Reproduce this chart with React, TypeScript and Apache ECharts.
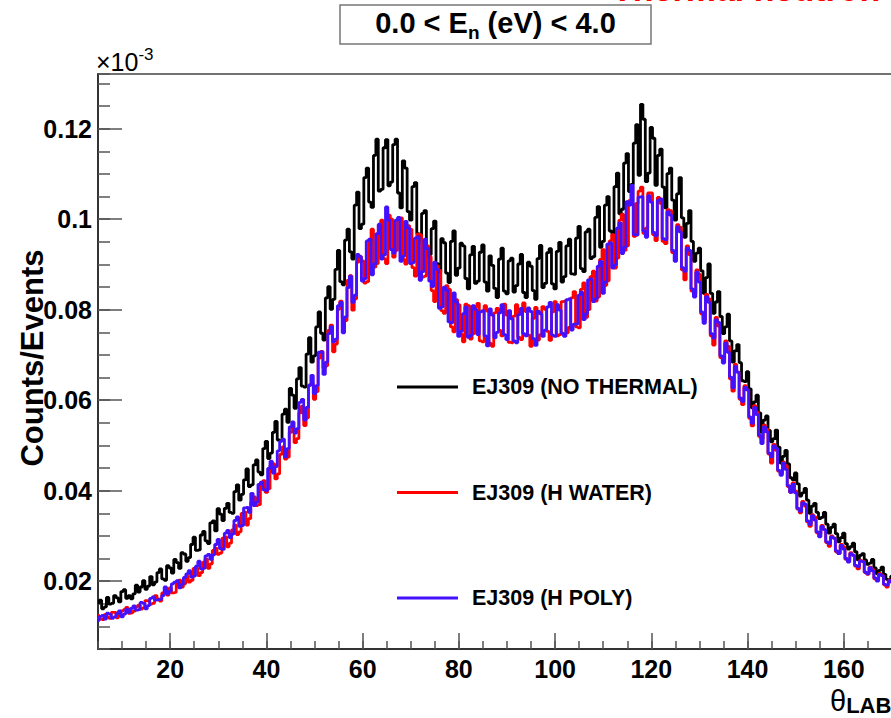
import React, { useEffect, useRef } from "react";
import * as echarts from "echarts";

// ---- axis ranges / binning ----
const THETA_MIN = 5;
const THETA_MAX = 180;
const BIN_START = 5;
const BIN_WIDTH = 0.5;
const Y_MIN = 0.005;
const Y_MAX = 0.1321;

// ---- series values (x 10^-3), one per 0.5-degree bin from 5 to 170 deg ----
const NO_THERMAL = [
  0.0152, 0.0158, 0.0139, 0.0143, 0.0164, 0.0149, 0.0151, 0.0168, 0.0163, 0.0154,
  0.0177, 0.0181, 0.0162, 0.0168, 0.0161, 0.0172, 0.0191, 0.0176, 0.0187, 0.0201,
  0.0182, 0.0189, 0.0210, 0.0192, 0.0198, 0.0219, 0.0227, 0.0205, 0.0202, 0.0234,
  0.0229, 0.0218, 0.0248, 0.0241, 0.0228, 0.0263, 0.0260, 0.0244, 0.0252, 0.0281,
  0.0297, 0.0268, 0.0269, 0.0302, 0.0310, 0.0289, 0.0283, 0.0329, 0.0333, 0.0311,
  0.0360, 0.0348, 0.0334, 0.0361, 0.0372, 0.0352, 0.0350, 0.0398, 0.0413, 0.0379,
  0.0392, 0.0424, 0.0448, 0.0409, 0.0413, 0.0457, 0.0468, 0.0441, 0.0435, 0.0493,
  0.0509, 0.0471, 0.0483, 0.0529, 0.0553, 0.0512, 0.0510, 0.0569, 0.0580, 0.0551,
  0.0626, 0.0611, 0.0582, 0.0647, 0.0672, 0.0631, 0.0629, 0.0702, 0.0738, 0.0684,
  0.0698, 0.0762, 0.0795, 0.0748, 0.0733, 0.0826, 0.0851, 0.0801, 0.0823, 0.0889,
  0.0931, 0.0862, 0.0855, 0.0954, 0.0978, 0.0928, 0.0912, 0.1031, 0.1060, 0.0979,
  0.0989, 0.1092, 0.1113, 0.1038, 0.1026, 0.1141, 0.1177, 0.1062, 0.1066, 0.1158,
  0.1176, 0.1074, 0.1082, 0.1165, 0.1177, 0.1058, 0.1025, 0.1129, 0.1113, 0.1017,
  0.0998, 0.1072, 0.1081, 0.0968, 0.0950, 0.1013, 0.1019, 0.0924, 0.0922, 0.0979,
  0.0996, 0.0902, 0.0884, 0.0957, 0.0948, 0.0881, 0.0860, 0.0951, 0.0974, 0.0876,
  0.0892, 0.0947, 0.0941, 0.0869, 0.0846, 0.0921, 0.0940, 0.0858, 0.0863, 0.0927,
  0.0943, 0.0861, 0.0841, 0.0919, 0.0898, 0.0847, 0.0827, 0.0912, 0.0936, 0.0841,
  0.0835, 0.0908, 0.0914, 0.0839, 0.0853, 0.0901, 0.0922, 0.0838, 0.0827, 0.0905,
  0.0896, 0.0842, 0.0823, 0.0913, 0.0942, 0.0849, 0.0858, 0.0926, 0.0935, 0.0857,
  0.0846, 0.0929, 0.0949, 0.0861, 0.0873, 0.0941, 0.0956, 0.0879, 0.0878, 0.0958,
  0.0984, 0.0891, 0.0884, 0.0972, 0.0978, 0.0913, 0.0917, 0.1004, 0.1028, 0.0938,
  0.0951, 0.1031, 0.1050, 0.0974, 0.0969, 0.1072, 0.1102, 0.1012, 0.1022, 0.1124,
  0.1145, 0.1061, 0.1077, 0.1168, 0.1209, 0.1097, 0.1254, 0.1221, 0.1083, 0.1102,
  0.1203, 0.1179, 0.1075, 0.1141, 0.1155, 0.1071, 0.1025, 0.1101, 0.1113, 0.1042,
  0.0998, 0.1056, 0.1092, 0.1003, 0.0960, 0.0991, 0.1019, 0.0951, 0.0907, 0.0925,
  0.0936, 0.0886, 0.0836, 0.0871, 0.0901, 0.0836, 0.0792, 0.0817, 0.0840, 0.0785,
  0.0747, 0.0762, 0.0790, 0.0731, 0.0684, 0.0709, 0.0723, 0.0683, 0.0643, 0.0641,
  0.0663, 0.0625, 0.0583, 0.0596, 0.0611, 0.0572, 0.0529, 0.0556, 0.0565, 0.0533,
  0.0508, 0.0515, 0.0534, 0.0496, 0.0461, 0.0476, 0.0489, 0.0459, 0.0429, 0.0424,
  0.0439, 0.0415, 0.0388, 0.0395, 0.0405, 0.0379, 0.0350, 0.0366, 0.0372, 0.0352,
  0.0338, 0.0341, 0.0352, 0.0326, 0.0306, 0.0319, 0.0326, 0.0305, 0.0287, 0.0296,
  0.0306, 0.0283, 0.0271, 0.0276, 0.0284, 0.0265, 0.0247, 0.0257, 0.0261, 0.0247,
  0.0237, 0.0240, 0.0248, 0.0229, 0.0216, 0.0224, 0.0231, 0.0215, 0.0204, 0.0202,
  0.0211,
];

const H_WATER = [
  0.0124, 0.0116, 0.0115, 0.0126, 0.0121, 0.0118, 0.0131, 0.0131, 0.0119, 0.0124,
  0.0134, 0.0137, 0.0142, 0.0129, 0.0130, 0.0134, 0.0143, 0.0147, 0.0138, 0.0141,
  0.0157, 0.0156, 0.0149, 0.0151, 0.0168, 0.0161, 0.0156, 0.0174, 0.0177, 0.0169,
  0.0185, 0.0174, 0.0175, 0.0195, 0.0202, 0.0187, 0.0194, 0.0211, 0.0198, 0.0202,
  0.0228, 0.0229, 0.0212, 0.0219, 0.0242, 0.0249, 0.0228, 0.0238, 0.0268, 0.0273,
  0.0259, 0.0262, 0.0295, 0.0298, 0.0276, 0.0284, 0.0313, 0.0324, 0.0303, 0.0309,
  0.0350, 0.0353, 0.0324, 0.0338, 0.0375, 0.0386, 0.0367, 0.0369, 0.0415, 0.0422,
  0.0396, 0.0404, 0.0456, 0.0459, 0.0426, 0.0437, 0.0480, 0.0497, 0.0470, 0.0474,
  0.0529, 0.0538, 0.0506, 0.0515, 0.0572, 0.0587, 0.0544, 0.0561, 0.0633, 0.0637,
  0.0602, 0.0619, 0.0693, 0.0708, 0.0671, 0.0676, 0.0754, 0.0766, 0.0707, 0.0724,
  0.0801, 0.0819, 0.0781, 0.0776, 0.0865, 0.0875, 0.0799, 0.0824, 0.0905, 0.0918,
  0.0908, 0.0859, 0.0862, 0.0952, 0.0978, 0.0894, 0.0902, 0.0987, 0.0998, 0.0913,
  0.0902, 0.1009, 0.1000, 0.0916, 0.0931, 0.0999, 0.1003, 0.0911, 0.0901, 0.0986,
  0.0978, 0.0893, 0.0874, 0.0967, 0.0966, 0.0872, 0.0874, 0.0941, 0.0917, 0.0842,
  0.0818, 0.0897, 0.0887, 0.0798, 0.0792, 0.0853, 0.0845, 0.0762, 0.0751, 0.0822,
  0.0811, 0.0746, 0.0729, 0.0812, 0.0809, 0.0735, 0.0747, 0.0806, 0.0814, 0.0731,
  0.0729, 0.0809, 0.0797, 0.0726, 0.0719, 0.0793, 0.0803, 0.0754, 0.0742, 0.0812,
  0.0788, 0.0728, 0.0727, 0.0786, 0.0811, 0.0739, 0.0734, 0.0815, 0.0796, 0.0744,
  0.0719, 0.0781, 0.0805, 0.0733, 0.0745, 0.0807, 0.0801, 0.0752, 0.0732, 0.0795,
  0.0818, 0.0742, 0.0745, 0.0818, 0.0819, 0.0749, 0.0761, 0.0826, 0.0840, 0.0762,
  0.0760, 0.0845, 0.0859, 0.0783, 0.0800, 0.0873, 0.0885, 0.0819, 0.0828, 0.0911,
  0.0933, 0.0854, 0.0864, 0.0952, 0.0966, 0.0892, 0.0914, 0.0998, 0.1011, 0.0931,
  0.0941, 0.1041, 0.1035, 0.0962, 0.1035, 0.1062, 0.1071, 0.0969, 0.0980, 0.1058,
  0.1058, 0.0966, 0.0953, 0.1048, 0.1035, 0.0951, 0.0946, 0.1021, 0.1019, 0.0926,
  0.0926, 0.0988, 0.0982, 0.0888, 0.0866, 0.0941, 0.0922, 0.0841, 0.0836, 0.0888,
  0.0878, 0.0791, 0.0778, 0.0834, 0.0824, 0.0742, 0.0722, 0.0783, 0.0764, 0.0694,
  0.0689, 0.0731, 0.0719, 0.0647, 0.0620, 0.0679, 0.0662, 0.0602, 0.0590, 0.0632,
  0.0623, 0.0560, 0.0543, 0.0588, 0.0573, 0.0520, 0.0514, 0.0545, 0.0536, 0.0481,
  0.0461, 0.0502, 0.0489, 0.0443, 0.0438, 0.0463, 0.0456, 0.0409, 0.0396, 0.0417,
  0.0399, 0.0359, 0.0351, 0.0376, 0.0366, 0.0331, 0.0321, 0.0347, 0.0342, 0.0307,
  0.0305, 0.0323, 0.0314, 0.0285, 0.0277, 0.0300, 0.0295, 0.0265, 0.0261, 0.0281,
  0.0276, 0.0248, 0.0247, 0.0263, 0.0257, 0.0233, 0.0227, 0.0246, 0.0244, 0.0219,
  0.0215, 0.0231, 0.0226, 0.0205, 0.0204, 0.0217, 0.0213, 0.0192, 0.0187, 0.0202,
  0.0198,
];

const H_POLY = [
  0.0113, 0.0122, 0.0124, 0.0116, 0.0129, 0.0127, 0.0118, 0.0121, 0.0128, 0.0134,
  0.0121, 0.0127, 0.0138, 0.0131, 0.0140, 0.0145, 0.0136, 0.0137, 0.0153, 0.0151,
  0.0139, 0.0146, 0.0162, 0.0165, 0.0158, 0.0159, 0.0160, 0.0168, 0.0187, 0.0172,
  0.0178, 0.0194, 0.0198, 0.0201, 0.0185, 0.0193, 0.0208, 0.0216, 0.0223, 0.0209,
  0.0211, 0.0233, 0.0244, 0.0227, 0.0228, 0.0256, 0.0259, 0.0248, 0.0258, 0.0281,
  0.0292, 0.0272, 0.0270, 0.0306, 0.0312, 0.0296, 0.0304, 0.0334, 0.0342, 0.0321,
  0.0323, 0.0362, 0.0363, 0.0352, 0.0394, 0.0367, 0.0374, 0.0414, 0.0419, 0.0402,
  0.0400, 0.0449, 0.0465, 0.0439, 0.0453, 0.0488, 0.0509, 0.0514, 0.0475, 0.0493,
  0.0541, 0.0552, 0.0527, 0.0537, 0.0595, 0.0602, 0.0556, 0.0584, 0.0633, 0.0655,
  0.0614, 0.0632, 0.0706, 0.0707, 0.0657, 0.0684, 0.0747, 0.0762, 0.0729, 0.0735,
  0.0809, 0.0816, 0.0749, 0.0784, 0.0849, 0.0874, 0.0816, 0.0832, 0.0922, 0.0917,
  0.0863, 0.0869, 0.0952, 0.0956, 0.0877, 0.0901, 0.0968, 0.0989, 0.0912, 0.0921,
  0.1027, 0.0998, 0.0933, 0.0925, 0.0998, 0.1004, 0.0907, 0.0918, 0.0995, 0.0981,
  0.0902, 0.0904, 0.0958, 0.0961, 0.0865, 0.0884, 0.0956, 0.0935, 0.0863, 0.0851,
  0.0905, 0.0889, 0.0803, 0.0806, 0.0850, 0.0843, 0.0773, 0.0771, 0.0837, 0.0817,
  0.0741, 0.0752, 0.0791, 0.0806, 0.0739, 0.0743, 0.0809, 0.0801, 0.0745, 0.0795,
  0.0798, 0.0742, 0.0720, 0.0802, 0.0788, 0.0738, 0.0750, 0.0793, 0.0811, 0.0745,
  0.0734, 0.0798, 0.0780, 0.0731, 0.0727, 0.0789, 0.0803, 0.0747, 0.0742, 0.0804,
  0.0796, 0.0736, 0.0721, 0.0797, 0.0791, 0.0741, 0.0755, 0.0806, 0.0816, 0.0744,
  0.0741, 0.0811, 0.0799, 0.0748, 0.0741, 0.0822, 0.0824, 0.0755, 0.0768, 0.0768,
  0.0832, 0.0839, 0.0778, 0.0791, 0.0866, 0.0868, 0.0818, 0.0824, 0.0896, 0.0907,
  0.0836, 0.0861, 0.0945, 0.0948, 0.0892, 0.0899, 0.0980, 0.0992, 0.0924, 0.0938,
  0.1039, 0.1031, 0.1075, 0.0966, 0.0965, 0.1049, 0.1050, 0.0974, 0.0960, 0.1052,
  0.1038, 0.0971, 0.0963, 0.1042, 0.1045, 0.0957, 0.0955, 0.1017, 0.1009, 0.0931,
  0.0907, 0.0983, 0.0972, 0.0893, 0.0885, 0.0936, 0.0931, 0.0846, 0.0828, 0.0883,
  0.0861, 0.0795, 0.0770, 0.0829, 0.0816, 0.0747, 0.0737, 0.0778, 0.0772, 0.0698,
  0.0682, 0.0726, 0.0706, 0.0651, 0.0627, 0.0674, 0.0662, 0.0605, 0.0597, 0.0628,
  0.0623, 0.0563, 0.0549, 0.0584, 0.0568, 0.0523, 0.0504, 0.0541, 0.0530, 0.0483,
  0.0475, 0.0499, 0.0494, 0.0445, 0.0434, 0.0461, 0.0447, 0.0411, 0.0396, 0.0414,
  0.0395, 0.0361, 0.0354, 0.0373, 0.0370, 0.0333, 0.0325, 0.0345, 0.0335, 0.0309,
  0.0298, 0.0321, 0.0314, 0.0287, 0.0283, 0.0298, 0.0295, 0.0267, 0.0261, 0.0279,
  0.0271, 0.0250, 0.0242, 0.0261, 0.0257, 0.0235, 0.0232, 0.0245, 0.0243, 0.0220,
  0.0216, 0.0230, 0.0223, 0.0207, 0.0200, 0.0215, 0.0212, 0.0193, 0.0191, 0.0201,
  0.0198,
];

const SERIES_NAMES = ["EJ309 (NO THERMAL)", "EJ309 (H WATER)", "EJ309 (H POLY)"];
const SERIES_VALUES = [NO_THERMAL, H_WATER, H_POLY];
const SERIES_COLORS = ["#000000", "#ff0000", "#4411ff"];

const FONT = "'Liberation Sans', Arial, Helvetica, sans-serif";

export default function App() {
  const ref = useRef<HTMLDivElement>(null);

  useEffect(() => {
    if (!ref.current) return;
    const chart = echarts.init(ref.current, undefined, { renderer: "svg" });

    const series = SERIES_VALUES.map((vals, k) => ({
      name: SERIES_NAMES[k],
      type: "line",
      step: "middle",
      showSymbol: false,
      symbol: "none",
      xAxisIndex: 0,
      yAxisIndex: 0,
      clip: true,
      lineStyle: { color: SERIES_COLORS[k], width: 2.8 },
      itemStyle: { color: SERIES_COLORS[k] },
      data: vals.map((v, i) => [BIN_START + i * BIN_WIDTH, v]),
      z: 2 + k,
    }));

    const tickColor = "#555";
    const option: any = {
      animation: false,
      backgroundColor: "#ffffff",
      grid: {
        left: 98,
        right: 60,
        top: 74,
        bottom: 69,
        show: true,
        borderColor: "#444",
        borderWidth: 1.5,
        backgroundColor: "transparent",
      },
      xAxis: [
        {
          type: "value",
          position: "bottom",
          min: THETA_MIN,
          max: THETA_MAX,
          splitNumber: 9,
          axisLine: { show: true, onZero: false, lineStyle: { color: "#333", width: 2 } },
          axisTick: { show: true, inside: true, length: 16, lineStyle: { color: tickColor, width: 1.5 } },
          axisLabel: {
            show: true,
            color: "#000",
            fontSize: 25,
            fontWeight: "bold",
            fontFamily: FONT,
            margin: 7,
            showMinLabel: false,
            showMaxLabel: false,
          },
          splitLine: { show: false },
        },
        {
          type: "value",
          position: "bottom",
          min: THETA_MIN,
          max: THETA_MAX,
          interval: 5,
          axisLine: { show: false, onZero: false },
          axisTick: { show: true, inside: true, length: 8, lineStyle: { color: tickColor, width: 1.5 } },
          axisLabel: { show: false },
          splitLine: { show: false },
        },
      ],
      yAxis: [
        {
          type: "value",
          position: "left",
          min: Y_MIN,
          max: Y_MAX,
          splitNumber: 6,
          axisLine: { show: true, onZero: false, lineStyle: { color: "#333", width: 2 } },
          axisTick: { show: true, inside: true, length: 24, lineStyle: { color: tickColor, width: 1.5 } },
          axisLabel: {
            show: true,
            color: "#000",
            fontSize: 25,
            fontWeight: "bold",
            fontFamily: FONT,
            margin: 6,
            showMinLabel: false,
            showMaxLabel: false,
          },
          splitLine: { show: false },
        },
        {
          type: "value",
          position: "left",
          min: Y_MIN,
          max: Y_MAX,
          interval: 0.005,
          axisLine: { show: false, onZero: false },
          axisTick: { show: true, inside: true, length: 12, lineStyle: { color: tickColor, width: 1.5 } },
          axisLabel: { show: false },
          splitLine: { show: false },
        },
      ],
      legend: {
        orient: "vertical",
        left: 397,
        top: 376,
        padding: 0,
        itemWidth: 61,
        itemHeight: 3,
        itemGap: 83.5,
        icon: "rect",
        selectedMode: false,
        data: SERIES_NAMES,
        textStyle: {
          color: "#000",
          fontSize: 21.5,
          fontWeight: "bold",
          fontFamily: FONT,
          lineHeight: 22,
          padding: [0, 0, 0, 9],
        },
      },
      graphic: [
        {
          type: "text",
          left: 612,
          top: -28,
          silent: true,
          style: {
            text: "Thermal neutron moderation",
            fill: "#ff0000",
            font: `bold 34px ${FONT}`,
          },
        },
        {
          type: "group",
          silent: true,
          children: [
            {
              type: "rect",
              shape: { x: 340, y: 5, width: 311, height: 39 },
              style: { fill: "#ffffff", stroke: "#777", lineWidth: 1.5 },
            },
            {
              type: "text",
              x: 495.5,
              y: 25,
              style: {
                text: "{a|0.0 < E}{n|n}{a| (eV) < 4.0}",
                align: "center",
                verticalAlign: "middle",
                fill: "#000",
                rich: {
                  a: { fontSize: 29, fontWeight: "bold", fontFamily: FONT, lineHeight: 34, verticalAlign: "top" },
                  n: { fontSize: 19, fontWeight: "bold", fontFamily: FONT, lineHeight: 20, verticalAlign: "bottom" },
                },
              },
            },
          ],
        },
        {
          type: "text",
          x: 96,
          y: 60,
          silent: true,
          style: {
            text: "{a|×10}{s|-3}",
            align: "left",
            verticalAlign: "middle",
            fill: "#000",
            rich: {
              a: { fontSize: 25, fontFamily: FONT, lineHeight: 28, verticalAlign: "bottom" },
              s: { fontSize: 17, fontFamily: FONT, lineHeight: 17, verticalAlign: "top" },
            },
          },
        },
        {
          type: "text",
          x: 32,
          y: 358,
          rotation: Math.PI / 2,
          silent: true,
          style: {
            text: "Counts/Events",
            align: "center",
            verticalAlign: "middle",
            fill: "#000",
            font: `bold 31px ${FONT}`,
          },
        },
        {
          type: "text",
          x: 830,
          y: 701,
          silent: true,
          style: {
            text: "{t|θ}{s|LAB}",
            align: "left",
            verticalAlign: "middle",
            fill: "#000",
            rich: {
              t: { fontSize: 29, fontFamily: FONT, lineHeight: 30, verticalAlign: "top" },
              s: { fontSize: 22, fontWeight: "bold", fontFamily: FONT, lineHeight: 22, verticalAlign: "bottom" },
            },
          },
        },
      ],
      series,
    };

    chart.setOption(option);
    return () => chart.dispose();
  }, []);

  return (
    <div
      style={{
        position: "fixed",
        left: 0,
        top: 0,
        width: 891,
        height: 718,
        overflow: "hidden",
        background: "#fff",
      }}
    >
      <div ref={ref} style={{ width: 1000, height: 718 }} />
    </div>
  );
}
